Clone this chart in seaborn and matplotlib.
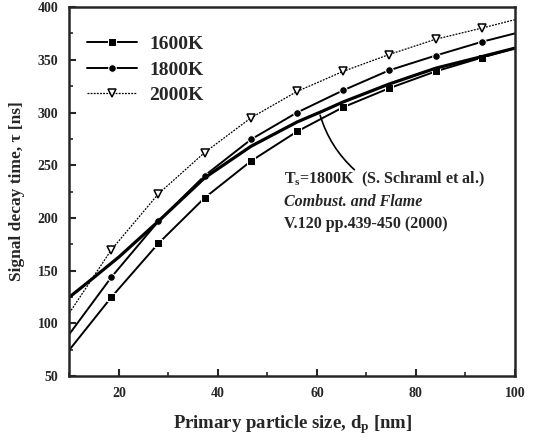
import matplotlib
matplotlib.use("Agg")
import matplotlib.pyplot as plt
import seaborn as sns
import pandas as pd
from matplotlib.ticker import MultipleLocator

# ---- data ----
x_model = [10, 18.5, 28, 37.3, 46.7, 56, 65.3, 74.6, 84, 93.3, 100]
y_1600 = [75, 125, 176, 219, 254, 282, 305, 323, 339, 352, 361]
y_1800 = [90, 144, 197, 240, 274.5, 300, 321, 340, 354, 367, 375]
y_2000 = [110, 170, 223, 262, 295, 320, 339, 355, 369.5, 380, 388]
x_schraml = [10, 14, 20, 28, 37.3, 46.7, 56, 61, 65.3, 74.6, 84, 93.3, 100]
y_schraml = [125, 140, 163, 197, 238, 268, 291, 301, 310, 327, 342, 353, 361]
series_labels = ["1600K", "1800K", "2000K"]
x_ticks = [20, 40, 60, 80, 100]
y_ticks = [50, 100, 150, 200, 250, 300, 350, 400]

sns.set_style("ticks")
plt.rcParams["font.family"] = ["Liberation Serif", "DejaVu Serif"]
plt.rcParams["font.weight"] = "bold"
plt.rcParams["mathtext.fontset"] = "custom"
plt.rcParams["mathtext.rm"] = "Liberation Serif:bold"
plt.rcParams["mathtext.it"] = "Liberation Serif:bold:italic"
plt.rcParams["mathtext.bf"] = "Liberation Serif:bold"

fig = plt.figure(figsize=(5.38, 4.40), dpi=100)
ax = fig.add_axes([0.129, 0.145, 0.828, 0.839])

df = pd.DataFrame({"x": x_model, "1600K": y_1600, "1800K": y_1800, "2000K": y_2000})
mk = list(range(1, len(x_model) - 1))

sns.lineplot(data=df, x="x", y="1600K", ax=ax, color="black", lw=1.4,
             marker="s", markersize=5.5, markevery=mk, label=series_labels[0])
sns.lineplot(data=df, x="x", y="1800K", ax=ax, color="black", lw=1.4,
             marker="o", markersize=5.5, markevery=mk, label=series_labels[1])
sns.lineplot(data=df, x="x", y="2000K", ax=ax, color="black", lw=0.9,
             linestyle=(0, (1.5, 1)), marker="v", markersize=5.5,
             markerfacecolor="white", markeredgecolor="black", markeredgewidth=1.1,
             markevery=mk, label=series_labels[2])
sns.lineplot(x=x_schraml, y=y_schraml, ax=ax, color="black", lw=2.3)

ax.set_xlim(10, 100)
ax.set_ylim(50, 400)
ax.set_xticks(x_ticks)
ax.set_yticks(y_ticks)
ax.xaxis.set_minor_locator(MultipleLocator(10))
ax.yaxis.set_minor_locator(MultipleLocator(25))
ax.tick_params(axis="both", which="major", direction="in", length=5, width=1.5,
               labelsize=10, pad=8)
ax.tick_params(axis="both", which="minor", direction="in", length=3, width=1.2)
for lab in ax.get_xticklabels() + ax.get_yticklabels():
    lab.set_fontweight("bold")
for s in ax.spines.values():
    s.set_linewidth(1.8)
    s.set_visible(True)

ax.set_xlabel(r"Primary particle size, d$_\mathregular{p}$ [nm]", fontsize=13.5,
              fontweight="bold", labelpad=9)
ax.set_ylabel(r"Signal decay time, τ [ns]", fontsize=12.5, fontweight="bold", labelpad=9)

leg = ax.legend(loc="upper left", bbox_to_anchor=(0.0, 0.97), frameon=False,
                prop={"family": "Liberation Serif", "weight": "bold", "size": 14},
                handlelength=2.6, labelspacing=0.4, handletextpad=0.6)

ax.annotate("", xy=(60.5, 300), xytext=(68.0, 244),
            arrowprops=dict(arrowstyle="-", color="black", lw=1.2,
                            connectionstyle="arc3,rad=-0.15"))
ax.text(53.3, 236.5, r"T$_\mathregular{s}$=1800K  (S. Schraml et al.)", fontsize=11.5,
        fontweight="bold", va="center")
ax.text(53.3, 215.5, "Combust. and Flame", fontsize=11.5, fontweight="bold",
        fontstyle="italic", va="center")
ax.text(53.3, 194.5, "V.120 pp.439-450 (2000)", fontsize=11.5, fontweight="bold",
        va="center")

fig.savefig("out.png", dpi=100)
